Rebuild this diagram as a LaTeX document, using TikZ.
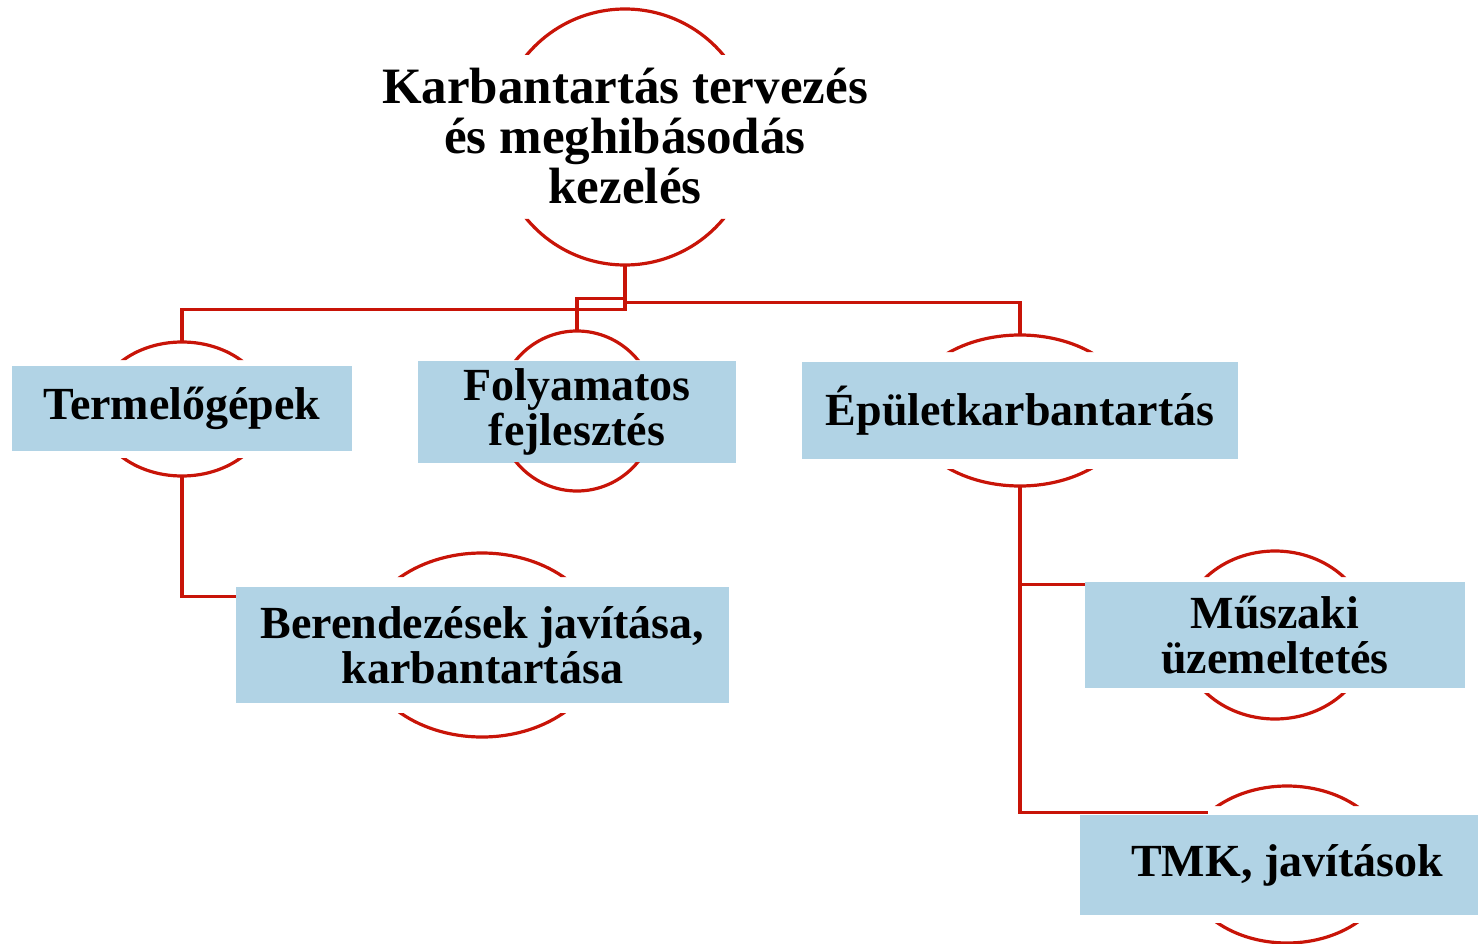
\documentclass[tikz,border=0pt]{standalone}
\usepackage{fontspec}
\setmainfont{Liberation Serif}
\usetikzlibrary{shapes.geometric,calc}
\definecolor{linkred}{RGB}{200,20,8}
\definecolor{boxblue}{RGB}{177,211,229}
\newcommand{\ringarcs}[5]{%
  \begin{scope}
    \clip (#1-#3-6,#2-#4-6) rectangle (#1+#3+6,#2-#5)
          (#1-#3-6,#2+#5) rectangle (#1+#3+6,#2+#4+6);
    \draw[ringline] (#1,#2) ellipse [x radius=#3, y radius=#4];
  \end{scope}}
\tikzset{
  ringline/.style={draw=linkred, line width=3.2pt},
  link/.style={draw=linkred, line width=3.2pt},
  ringnode/.style={ellipse, draw=none, inner sep=0pt},
  bluebox/.style={rectangle, fill=boxblue, draw=none, align=center, inner sep=0pt,
    font=\bfseries\fontsize{46}{45}\selectfont},
  roottext/.style={align=center, inner sep=0pt, font=\bfseries\fontsize{51}{50}\selectfont}
}
\begin{document}
\begin{tikzpicture}[x=1pt,y=-1pt]
\useasboundingbox (0,0) rectangle (1478,944);
% invisible ellipse nodes (anchors for connectors)
\node[ringnode, minimum width=256pt, minimum height=256pt] (rootE) at (625,137) {};
\node[ringnode, minimum width=172pt, minimum height=134pt] (e1) at (182,409) {};
\node[ringnode, minimum width=158pt, minimum height=160pt] (e2) at (577,411) {};
\node[ringnode, minimum width=222pt, minimum height=151pt] (e3) at (1020,410.5) {};
\node[ringnode, minimum width=242pt, minimum height=184pt] (e4) at (482,645) {};
\node[ringnode, minimum width=190pt, minimum height=168pt] (e5) at (1275,635) {};
\node[ringnode, minimum width=208pt, minimum height=157pt] (e6) at (1287,864.5) {};
% boxes
\node[bluebox, minimum width=340pt, minimum height=85pt] (b1) at (182,408.5) {Termelőgépek};
\node[bluebox, minimum width=318pt, minimum height=102pt] (b2) at (577,412) {Folyamatos\\fejlesztés};
\node[bluebox, minimum width=436pt, minimum height=97pt] (b3) at (1020,410.5) {Épületkarbantartás};
\node[bluebox, minimum width=493pt, minimum height=116pt] (b4) at (482.5,645) {Berendezések javítása,\\karbantartása};
\node[bluebox, minimum width=380pt, minimum height=106pt] (b5) at (1275,635) {Műszaki\\üzemeltetés};
\node[bluebox, minimum width=398pt, minimum height=100pt] (b6) at (1279,865) {\hspace*{16pt}TMK, javítások};
\node[roottext] (root) at (625,136) {Karbantartás tervezés\\és meghibásodás\\kezelés};
% connectors
\draw[link] (rootE.south) -- ++(0,44) -| (e1.north);
\draw[link] (rootE.south) -- ++(0,33) -| (e2.north);
\draw[link] (rootE.south) -- ++(0,37) -| (e3.north);
\draw[link] (e1.south) |- ([yshift=-10pt]b4.north west);
\draw[link] (e3.south) |- ([yshift=-3pt]b5.north west);
\draw[link] (e3.south) |- ([xshift=128pt,yshift=2pt]b6.north west);
% ring arcs
\ringarcs{625}{137}{128}{128}{82}
\ringarcs{182}{409}{86}{67}{49}
\ringarcs{577}{411}{79}{80}{51}
\ringarcs{1020}{410.5}{111}{75.5}{58.5}
\ringarcs{482}{645}{121}{92}{68}
\ringarcs{1275}{635}{95}{84}{58}
\ringarcs{1287}{864.5}{104}{78.5}{58.5}
\end{tikzpicture}
\end{document}
